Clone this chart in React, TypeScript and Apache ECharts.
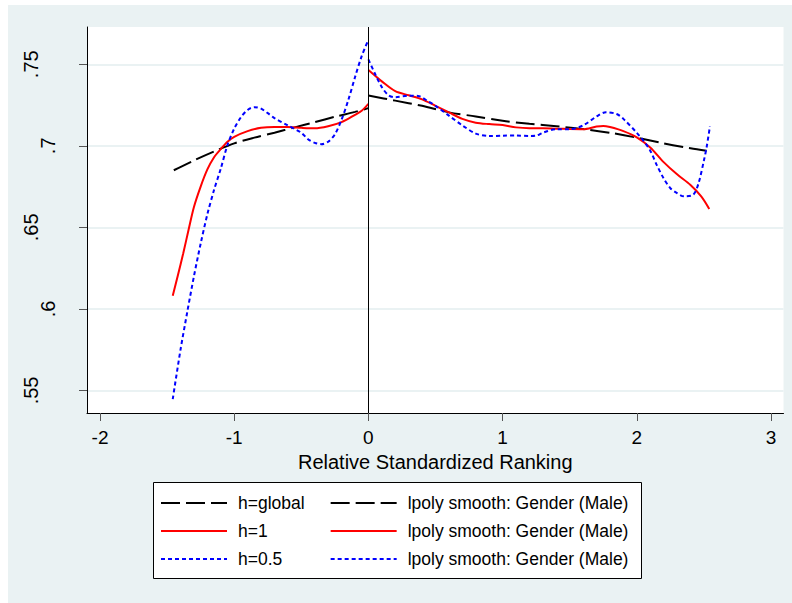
import React, { useEffect, useRef } from 'react';
import * as echarts from 'echarts';

// left of the cut-off (x < 0)
const leftGlobalX = [-1.45, -1.3, -1.15, -1.0, -0.85, -0.7, -0.55, -0.4, -0.25, -0.1, 0];
const leftGlobalY = [0.685, 0.691, 0.6965, 0.7015, 0.705, 0.708, 0.7113, 0.7145, 0.7178, 0.7208, 0.7231];

const leftH1X = [-1.458, -1.42, -1.38, -1.34, -1.3, -1.25, -1.2, -1.15, -1.1, -1.05, -1.0, -0.9, -0.8, -0.7, -0.6, -0.5, -0.4, -0.3, -0.2, -0.1, -0.05, 0];
const leftH1Y = [0.608, 0.6205, 0.634, 0.6485, 0.6625, 0.675, 0.6855, 0.693, 0.698, 0.7025, 0.7055, 0.709, 0.711, 0.7115, 0.7115, 0.711, 0.7107, 0.712, 0.7145, 0.719, 0.7215, 0.7257];

const leftH05X = [-1.458, -1.4, -1.35, -1.3, -1.25, -1.2, -1.15, -1.1, -1.05, -1.0, -0.95, -0.9, -0.85, -0.8, -0.75, -0.7, -0.6, -0.5, -0.45, -0.4, -0.35, -0.3, -0.25, -0.2, -0.15, -0.1, -0.05, 0];
const leftH05Y = [0.5446, 0.575, 0.598, 0.62, 0.64, 0.658, 0.673, 0.686, 0.7005, 0.7105, 0.7175, 0.722, 0.7237, 0.7228, 0.72, 0.717, 0.7125, 0.708, 0.704, 0.7018, 0.701, 0.7025, 0.707, 0.716, 0.728, 0.742, 0.755, 0.765];

// right of the cut-off (x >= 0)
const rightGlobalX = [0, 0.2, 0.4, 0.6, 0.8, 1.0, 1.2, 1.4, 1.6, 1.8, 2.0, 2.2, 2.4, 2.52];
const rightGlobalY = [0.7308, 0.7277, 0.7245, 0.7205, 0.718, 0.7153, 0.7135, 0.712, 0.7103, 0.708, 0.705, 0.7015, 0.6985, 0.697];

const rightH1X = [0, 0.05, 0.1, 0.2, 0.3, 0.4, 0.5, 0.6, 0.7, 0.8, 0.9, 1.0, 1.1, 1.2, 1.3, 1.4, 1.5, 1.6, 1.7, 1.75, 1.8, 1.9, 2.0, 2.1, 2.2, 2.3, 2.4, 2.48, 2.54];
const rightH1Y = [0.7465, 0.743, 0.7395, 0.7335, 0.731, 0.7285, 0.7245, 0.7205, 0.7165, 0.7142, 0.7133, 0.7127, 0.7113, 0.7108, 0.7108, 0.7105, 0.7103, 0.7102, 0.7118, 0.7122, 0.7115, 0.709, 0.7052, 0.699, 0.69, 0.6825, 0.676, 0.669, 0.6613];

const rightH05X = [0, 0.05, 0.1, 0.15, 0.2, 0.3, 0.37, 0.45, 0.5, 0.6, 0.7, 0.8, 0.9, 1.0, 1.1, 1.2, 1.25, 1.3, 1.4, 1.5, 1.6, 1.7, 1.77, 1.85, 1.9, 2.0, 2.05, 2.1, 2.15, 2.2, 2.25, 2.3, 2.35, 2.42, 2.46, 2.5, 2.52, 2.545];
const rightH05Y = [0.753, 0.744, 0.736, 0.731, 0.7298, 0.7307, 0.7306, 0.727, 0.7245, 0.7185, 0.7125, 0.7075, 0.706, 0.7062, 0.7063, 0.706, 0.7062, 0.708, 0.7102, 0.7102, 0.7125, 0.718, 0.7206, 0.7195, 0.7165, 0.708, 0.703, 0.697, 0.688, 0.68, 0.674, 0.671, 0.669, 0.67, 0.677, 0.691, 0.699, 0.712];

const xTicks = [-2, -1, 0, 1, 2, 3];
const yTicks = [0.55, 0.6, 0.65, 0.7, 0.75];
const yLabelsNear = [0.6, 0.7];
const yLabelsFar = [0.55, 0.65, 0.75];

const FONT = 'Liberation Sans, Arial, sans-serif';
const BG = '#eaf2f3';
const MALE = 'lpoly smooth: Gender (Male)';

const zip = (xs: number[], ys: number[]) => xs.map((x, i) => [x, ys[i]]);
const stripZero = (v: number) => String(v).replace(/^0/, '');

const App: React.FC = () => {
    const chartRef = useRef<HTMLDivElement>(null);

    useEffect(() => {
        if (!chartRef.current) return;
        const chart = echarts.init(chartRef.current, null, { renderer: 'svg' });

        const lineSeries = (name: string, data: number[][], color: string, type: any) => ({
            name,
            type: 'line',
            data,
            symbol: 'none',
            smooth: 0.3,
            lineStyle: { color, width: 2, type },
            itemStyle: { color },
            emphasis: { disabled: true },
            z: 3,
        });

        const yLabelStyle = (values: number[], margin: number) => ({
            customValues: values,
            rotate: 90,
            margin,
            fontSize: 20,
            color: '#000',
            fontFamily: FONT,
            formatter: (v: number) => stripZero(v),
        });

        const option: any = {
            animation: false,
            backgroundColor: BG,
            textStyle: { fontFamily: FONT },
            grid: {
                left: 79,
                top: 22,
                right: 8.5,
                bottom: 190,
                show: true,
                backgroundColor: '#fff',
                borderWidth: 0,
            },
            graphic: [
                {
                    type: 'rect',
                    z: 0,
                    shape: { x: 145.5, y: 477.5, width: 488, height: 96 },
                    style: { fill: '#fff', stroke: '#000', lineWidth: 1 },
                },
            ],
            legend: {
                orient: 'vertical',
                left: 152,
                top: 489,
                height: 80,
                padding: 0,
                itemWidth: 66,
                itemHeight: 18,
                itemGap: 10,
                selectedMode: false,
                itemStyle: { opacity: 0 },
                textStyle: {
                    fontSize: 17.5,
                    color: '#000',
                    fontFamily: FONT,
                    lineHeight: 18,
                    padding: [0, 15, 0, 6],
                },
                formatter: (name: string) => (name.startsWith('r_') ? MALE : name),
                data: ['h=global', 'h=1', 'h=0.5', 'r_global', 'r_1', 'r_0.5'],
            },
            xAxis: {
                type: 'value',
                min: -2.0969,
                max: 3.0931,
                name: 'Relative Standardized Ranking',
                nameLocation: 'middle',
                nameGap: 36,
                nameTextStyle: { fontSize: 20, color: '#000', fontFamily: FONT },
                axisLine: { show: true, onZero: false, lineStyle: { color: '#000', width: 1 } },
                axisTick: { show: true, length: 8, customValues: xTicks, lineStyle: { color: '#555' } },
                axisLabel: { customValues: xTicks, margin: 15, fontSize: 19, color: '#000', fontFamily: FONT },
                splitLine: { show: false },
            },
            yAxis: [
                {
                    type: 'value',
                    min: 0.53615,
                    max: 0.77285,
                    axisLine: { show: true, onZero: false, lineStyle: { color: '#000', width: 1 } },
                    axisTick: { show: true, length: 8, customValues: yTicks, lineStyle: { color: '#555' } },
                    axisLabel: yLabelStyle(yLabelsNear, 29),
                    splitLine: { show: true, lineStyle: { color: BG, width: 2 } },
                },
                {
                    type: 'value',
                    position: 'left',
                    min: 0.53615,
                    max: 0.77285,
                    axisLine: { show: false, onZero: false },
                    axisTick: { show: false },
                    axisLabel: yLabelStyle(yLabelsFar, 46),
                    splitLine: { show: false },
                },
            ],
            series: [
                {
                    ...lineSeries('h=global', zip(leftGlobalX, leftGlobalY), '#000', [19, 6]),
                    markLine: {
                        silent: true,
                        symbol: ['none', 'none'],
                        label: { show: false },
                        lineStyle: { color: '#000', width: 1, type: 'solid' },
                        emphasis: { disabled: true },
                        data: [{ xAxis: 0 }],
                    },
                },
                lineSeries('h=1', zip(leftH1X, leftH1Y), '#ff0000', 'solid'),
                lineSeries('h=0.5', zip(leftH05X, leftH05Y), '#0000ff', [4, 3]),
                lineSeries('r_global', zip(rightGlobalX, rightGlobalY), '#000', [19, 6]),
                lineSeries('r_1', zip(rightH1X, rightH1Y), '#ff0000', 'solid'),
                lineSeries('r_0.5', zip(rightH05X, rightH05Y), '#0000ff', [4, 3]),
            ],
        };

        chart.setOption(option);

        return () => {
            chart.dispose();
        };
    }, []);

    return (
        <div
            ref={chartRef}
            style={{
                position: 'absolute',
                left: '8px',
                top: '5px',
                width: '784px',
                height: '598px',
            }}
        />
    );
};

export default App;
